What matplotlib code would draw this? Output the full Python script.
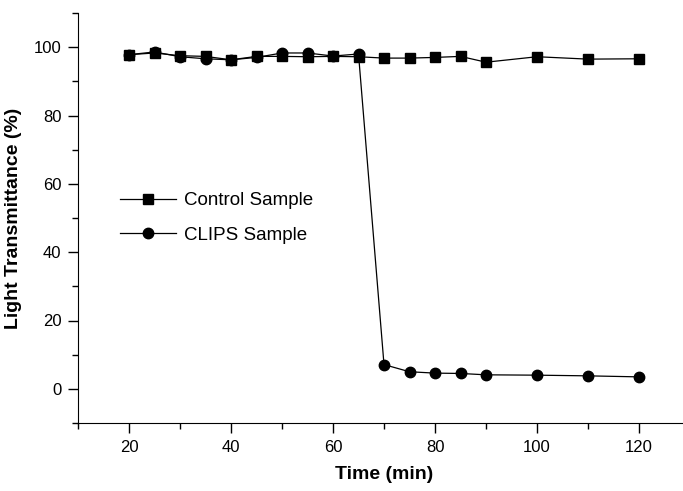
import matplotlib
matplotlib.use("Agg")
import matplotlib.pyplot as plt
from matplotlib.ticker import MultipleLocator

plt.rcParams["font.family"] = ["Liberation Sans", "DejaVu Sans"]

# Data
time = [20, 25, 30, 35, 40, 45, 50, 55, 60, 65, 70, 75, 80, 85, 90, 100, 110, 120]
control = [97.8, 98.3, 97.5, 97.3, 96.3, 97.3, 97.3, 97.2, 97.3, 97.2,
           96.8, 96.8, 97.0, 97.3, 95.6, 97.2, 96.5, 96.6]
clips = [97.8, 98.6, 97.2, 96.6, 96.3, 97.0, 98.3, 98.3, 97.4, 98.0,
         7.1, 5.0, 4.6, 4.5, 4.1, 4.0, 3.8, 3.5]

fig = plt.figure(figsize=(6.83, 4.91), dpi=100)
# axes runs past the right edge like the scanned original
ax = fig.add_axes([78 / 683, 68 / 491, 612 / 683, 410 / 491])

ax.plot(time, control, color="black", lw=0.9, marker="s", ms=6.5,
        label="Control Sample")
ax.plot(time, clips, color="black", lw=0.9, marker="o", ms=7.5,
        label="CLIPS Sample")

ax.set_xlim(10, 130)
ax.set_ylim(-10, 110)
ax.xaxis.set_minor_locator(MultipleLocator(10))
ax.yaxis.set_minor_locator(MultipleLocator(10))
ax.set_xticks([20, 40, 60, 80, 100, 120])
ax.set_yticks([0, 20, 40, 60, 80, 100])

ax.tick_params(which="major", direction="out", length=7, width=1, labelsize=12,
               pad=5)
ax.tick_params(which="minor", direction="out", length=4, width=1)
ax.spines["top"].set_visible(False)
ax.spines["right"].set_visible(False)

ax.set_xlabel("Time (min)", fontsize=14, fontweight="bold", labelpad=8)
ax.set_ylabel("Light Transmittance (%)", fontsize=14, fontweight="bold",
              labelpad=8)

ax.legend(loc="center left", bbox_to_anchor=(0.069, 0.5), frameon=False,
          fontsize=13.5, handlelength=3, labelspacing=0.95, handletextpad=0.4,
          borderpad=0, borderaxespad=0)

fig.savefig("out.png", dpi=100)
